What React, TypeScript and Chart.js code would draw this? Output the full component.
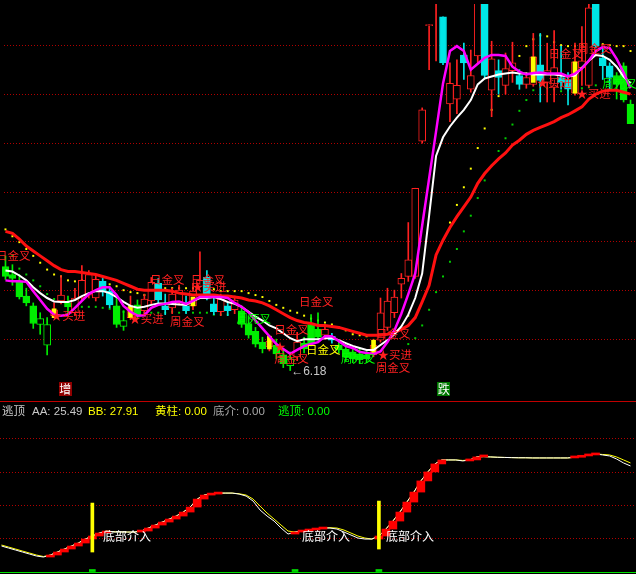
import React, { useEffect, useRef } from 'react';
import { Chart, registerables } from 'chart.js';

Chart.register(...registerables);

// ---------- categories ----------
const days = Array.from({ length: 91 }, (_, i) => `D${i + 1}`);

// ---------- candles (price) ----------
const open = [7.24,7.16,7.09,6.94,6.84,6.65,6.44,6.74,6.89,6.87, 6.77,6.92,6.95,6.92,7.09,6.99,6.84,6.63,6.72,6.85, 6.79,6.89,7.07,6.84,6.82,6.87,6.84,6.84,6.95,7.13, 6.86,6.78,6.84,6.80,6.79,6.66,6.58,6.47,6.42,6.44, 6.34,6.23,6.32,6.46,6.65,6.60,6.54,6.53,6.44,6.40, 6.37,6.35,6.34,6.34,6.49,6.62,6.77,7.06,7.14,7.14, 8.52,9.70,10.00,9.79,8.90,8.95,9.40,9.05,9.39,10.07, 9.04,9.24,9.09,9.24,9.19,9.10,9.10,9.30,9.12,9.07, 9.17,9.15,9.01,9.27,9.09,10.02,9.37,9.29,9.19,9.29, 8.90];
const high = [7.35,7.26,7.16,7.02,6.87,6.77,6.72,6.87,7.15,6.94, 7.02,7.25,7.20,7.15,7.12,7.02,6.92,6.79,6.94,6.90, 6.96,7.13,7.12,6.96,7.02,7.05,6.94,7.07,7.39,7.20, 6.94,6.96,6.88,6.94,6.84,6.74,6.62,6.52,6.54,6.50, 6.40,6.37,6.57,6.52,6.75,6.77,6.65,6.56,6.48,6.45, 6.42,6.40,6.39,6.50,6.92,7.02,7.00,7.17,7.69,8.04, 8.86,9.71,10.27,9.79,9.32,9.35,9.52,9.45,10.17,10.12, 9.54,9.35,9.42,9.53,9.25,9.22,9.62,9.62,9.52,9.65, 9.49,9.22,9.52,9.69,9.92,10.07,9.49,9.32,9.22,9.32, 8.94];
const low = [7.11,7.05,6.91,6.84,6.61,6.55,6.34,6.72,6.86,6.76, 6.74,6.90,6.92,6.89,6.94,6.82,6.62,6.59,6.70,6.72, 6.76,6.86,6.87,6.75,6.76,6.85,6.76,6.80,6.92,6.90, 6.75,6.74,6.74,6.76,6.62,6.51,6.42,6.36,6.38,6.30, 6.21,6.18,6.28,6.36,6.43,6.49,6.50,6.46,6.36,6.28, 6.26,6.25,6.26,6.32,6.47,6.59,6.72,6.92,7.09,7.12, 8.50,9.25,9.34,9.30,8.72,8.80,9.15,9.02,9.32,9.16, 8.77,9.00,9.00,9.12,9.05,9.06,9.08,8.92,8.92,8.92, 9.05,8.89,8.99,9.09,9.07,9.47,9.15,9.05,8.95,8.92, 8.70];
const close = [7.14,7.12,6.93,6.87,6.66,6.71,6.65,6.80,6.95,6.83, 6.92,7.10,7.16,7.11,6.99,6.85,6.65,6.69,6.83,6.75, 6.91,7.08,6.90,6.80,6.96,7.00,6.79,6.99,7.10,6.95, 6.78,6.91,6.79,6.90,6.65,6.54,6.45,6.40,6.48,6.35, 6.25,6.30,6.47,6.40,6.45,6.52,6.60,6.49,6.39,6.32, 6.30,6.29,6.30,6.44,6.77,6.89,6.93,7.12,7.31,8.04, 8.84,9.71,10.22,9.32,9.11,9.09,9.32,9.19,10.12,9.19, 9.36,9.17,9.26,9.32,9.10,9.17,9.38,9.14,9.24,9.27, 9.12,9.05,9.33,9.34,9.88,9.49,9.29,9.17,9.10,8.94, 8.70];
// r = red hollow, c = cyan solid, g = green solid, gh = green hollow
const kind = ['g','g','g','g','g','gh','gh','r','r','g', 'r','r','r','r','c','c','g','gh','r','g', 'r','r','c','c','r','r','c','r','r','c', 'c','r','c','r','g','g','g','g','r','g', 'g','gh','r','g','g','g','r','c','g','g', 'g','g','g','r','r','r','r','r','r','r', 'r','r','r','c','r','r','c','r','r','c', 'r','c','r','r','c','r','r','c','r','r', 'c','c','r','r','r','c','c','c','g','g', 'g'];

// yellow columns (黄柱)
const yellowLo = [null,null,null,null,null,null,null,6.72,null,null, null,null,null,null,null,null,null,null,6.72,null, null,null,null,null,null,null,null,6.84,null,null, null,null,null,null,null,null,null,null,6.40,null, null,null,null,null,null,null,null,null,null,null, null,null,null,6.35,null,null,null,null,null,null, null,null,null,null,null,null,null,null,null,null, null,null,null,null,null,null,9.12,null,null,null, null,null,9.01,null,null,null,null,null,null,null, null];
const yellowHi = [null,null,null,null,null,null,null,6.81,null,null, null,null,null,null,null,null,null,null,6.84,null, null,null,null,null,null,null,null,6.93,null,null, null,null,null,null,null,null,null,null,6.53,null, null,null,null,null,null,null,null,null,null,null, null,null,null,6.49,null,null,null,null,null,null, null,null,null,null,null,null,null,null,null,null, null,null,null,null,null,null,9.38,null,null,null, null,null,9.33,null,null,null,null,null,null,null, null];

// ---------- lines ----------
const redLine = [7.60,7.58,7.52,7.45,7.40,7.35,7.30,7.25,7.21,7.19, 7.19,7.18,7.17,7.16,7.14,7.12,7.10,7.07,7.04,7.01, 7.00,7.00,7.00,7.00,6.99,6.97,6.96,6.95,6.95,6.95, 6.95,6.94,6.94,6.93,6.92,6.90,6.89,6.87,6.84,6.80, 6.76,6.72,6.69,6.67,6.66,6.64,6.64,6.63,6.62,6.60, 6.58,6.56,6.54,6.54,6.54,6.55,6.57,6.60,6.64,6.72, 6.88,7.05,7.36,7.51,7.64,7.75,7.85,7.95,8.09,8.19, 8.27,8.34,8.40,8.48,8.53,8.59,8.63,8.66,8.69,8.72, 8.76,8.79,8.83,8.87,8.95,9.00,9.03,9.04,9.04,9.02, 9.00];
const whiteLine = [7.20,7.19,7.15,7.10,7.03,6.97,6.92,6.885,6.88,6.88, 6.90,6.94,6.97,6.99,6.99,6.97,6.93,6.88,6.84,6.82, 6.83,6.85,6.865,6.865,6.86,6.855,6.85,6.89,6.92,6.92, 6.93,6.91,6.88,6.86,6.83,6.78,6.73,6.69,6.64,6.61, 6.56,6.51,6.48,6.50,6.50,6.50,6.51,6.51,6.49,6.46, 6.43,6.41,6.39,6.39,6.44,6.49,6.55,6.63,6.75,6.92, 7.17,7.76,8.37,8.56,8.67,8.76,8.84,8.94,9.10,9.16, 9.18,9.20,9.21,9.22,9.21,9.21,9.20,9.20,9.20,9.20, 9.19,9.18,9.19,9.27,9.34,9.40,9.39,9.35,9.28,9.18, 9.11];
const pinkLine = [7.10,7.09,7.09,7.085,6.99,6.90,6.81,6.75,6.74,6.75, 6.82,6.89,6.96,7.00,7.03,7.03,6.95,6.84,6.78,6.74, 6.745,6.82,6.85,6.86,6.88,6.885,6.86,6.89,6.93,6.93, 6.93,6.93,6.92,6.87,6.83,6.775,6.69,6.61,6.53,6.45, 6.40,6.35,6.39,6.43,6.45,6.47,6.53,6.53,6.48,6.43, 6.41,6.37,6.36,6.35,6.375,6.47,6.59,6.76,6.96,7.17, 7.66,8.14,8.62,9.11,9.44,9.49,9.44,9.25,9.31,9.37, 9.40,9.40,9.39,9.28,9.23,9.20,9.215,9.22,9.21,9.21, 9.21,9.18,9.21,9.26,9.34,9.44,9.48,9.47,9.36,9.22, 9.06];
const upperDots = [7.62,7.55,7.49,7.42,7.35,7.28,7.21,7.16,7.14,7.10, 7.09,7.10,7.09,7.08,7.07,7.06,7.04,7.00,6.98,6.97, 6.95,7.01,7.02,7.02,7.02,7.02,7.02,7.02,7.02,7.02, 7.01,6.99,6.99,6.99,6.99,6.97,6.95,6.93,6.89,6.85, 6.82,6.79,6.77,6.74,6.71,6.69,6.67,6.65,6.62,6.59, 6.55,6.54,6.53,null,null,null,null,null,6.74,null, null,null,null,null,7.69,7.87,8.05,8.24,8.45,8.65, 8.84,8.98,9.12,9.26,9.39,9.49,9.56,9.60,9.59,9.53, 9.50,9.49,9.49,9.51,9.53,9.53,9.51,9.50,9.49,9.49, 9.44];
const lowerDots = [null,7.35,7.22,7.16,7.10,7.04,6.96,6.91,6.88,6.86, 6.84,6.83,6.83,6.83,6.82,6.81,6.79,6.78,6.77,6.77, 6.77,6.77,6.77,6.77,6.78,6.77,6.78,6.77,6.77,6.77, 6.75,6.75,6.75,null,null,null,null,null,null,null, null,null,null,null,null,null,null,null,null,null, null,null,null,null,null,null,null,null,6.45,6.51, 6.64,6.80,6.98,7.14,7.29,7.42,7.60,7.76,7.94,8.12, 8.27,8.42,8.55,8.69,8.83,8.94,9.04,9.09,9.06,9.05, 9.03,9.04,9.05,9.06,9.07,9.09,null,null,null,null, null];
const priceGrid = [6.5, 7.0, 7.5, 8.0, 8.5, 9.0, 9.5];

// ---------- top annotations ----------
const noteText = ['日金叉','日金叉','日金叉','★买进','★买进','周金叉','★买进','周死叉','日金叉','日金叉','周金叉','★','日金叉','周死叉','★买进','周金叉','日金叉','日金叉','周金叉','★买进','★买进','周死叉','←6.18'];
const noteAt = [-1.36,20.82,26.69,6.51,17.81,23.68,26.84,33.27,42.28,38.70,38.70,38.70,43.28,48.29,53.58,53.30,53.30,78.20,82.34,76.48,82.20,85.92,41.14];
const notePrice = [7.35,7.11,7.11,6.74,6.71,6.68,7.04,6.71,6.88,6.60,6.30,6.42,6.39,6.30,6.34,6.21,6.56,9.41,9.46,9.12,9.01,9.11,6.17];
const noteKind = ['r','r','r','r','r','r','r','g','r','r','r','r','y','g','r','r','r','r','r','r','r','g','w'];
const tagText = ['增', '跌'];
const tagAt = [8.6, 63.1];
const tagPrice = [5.99, 5.99];
const tagKind = ['up', 'down'];

// ---------- bottom indicator ----------
const AA = [15.3,14.1,12.9,11.7,10.5,9.3,8.7,9.9,11.7,13.5, 15.3,17.1,19.5,21.3,23.1,24.3,23.7,23.7,23.7,23.7, 24.3,26.1,27.9,29.7,31.5,33.3,35.7,38.7,43.5,45.9, 46.5,47.1,47.1,47.1,46.5,45.3,42.3,36.9,33.3,30.3, 26.1,22.5,23.7,24.3,24.9,25.5,26.1,26.1,25.5,23.7, 21.9,20.1,19.5,19.5,21.3,25.5,30.3,35.7,41.7,47.7, 54.4,59.8,64.6,67.0,67.0,67.0,66.4,67.0,68.8,69.0, 68.8,68.6,68.5,68.4,68.3,68.3,68.2,68.2,68.2,68.2, 68.2,68.2,68.6,69.4,70.0,70.6,70.0,69.4,67.6,65.2, 63.4];
const BB = [15.9,14.7,13.5,12.3,11.1,9.9,9.0,9.9,11.7,13.5, 15.3,17.1,19.5,21.3,23.1,24.3,23.9,23.8,23.7,23.7, 24.3,26.1,27.9,29.7,31.5,33.3,35.7,38.7,43.5,45.9, 46.5,47.1,47.1,47.1,46.7,45.9,43.5,39.3,35.1,31.5, 27.9,24.3,23.7,24.3,24.9,25.5,26.1,26.3,26.1,24.9, 23.1,21.3,20.1,19.5,21.3,25.5,30.3,35.7,41.7,47.7, 54.4,59.8,64.6,67.0,67.0,67.0,66.7,67.0,68.8,69.0, 68.8,68.6,68.5,68.4,68.3,68.3,68.2,68.2,68.2,68.2, 68.2,68.2,68.6,69.4,70.0,70.6,70.3,70.0,68.8,67.0, 65.2];
const stickDays = [13, 54];
const stickLo = [11.7, 13.5];
const stickHi = [41.1, 42.3];
const bumpDays = [13, 42, 54];
const bottomNoteText = ['底部介入', '底部介入', '底部介入'];
const bottomNoteAt = [14.52, 43.0, 55.0];
const bottomNoteValue = [21.3, 21.3, 21.3];
const indGrid = [20, 40, 60, 80];

// ---------- styles ----------
const RED = '#ff2020';
const CYAN = '#00e6e6';
const GREEN = '#00ee00';
const GRID = '#b00000';
const kindColor: Record<string, string> = { r: RED, c: CYAN, g: GREEN, gh: GREEN };
const noteColor: Record<string, string> = { r: RED, g: '#00ff00', y: '#ffff00', w: '#c8c8c8' };
const CJK = '"Noto Sans CJK SC", "Noto Sans CJK JP", sans-serif';

function gridPlugin(values: number[], zeroLine: boolean) {
  return {
    id: 'dotgrid',
    beforeDatasetsDraw(chart: any) {
      const { ctx, chartArea, scales } = chart;
      ctx.save();
      ctx.lineWidth = 1;
      ctx.strokeStyle = GRID;
      ctx.setLineDash([1, 2]);
      for (const v of values) {
        const y = Math.round(scales.y.getPixelForValue(v)) + 0.5;
        ctx.beginPath();
        ctx.moveTo(chartArea.left + 2, y);
        ctx.lineTo(chart.width, y);
        ctx.stroke();
      }
      if (zeroLine) {
        ctx.setLineDash([]);
        ctx.strokeStyle = '#00e000';
        const y = Math.round(scales.y.getPixelForValue(0)) + 0.5;
        ctx.beginPath();
        ctx.moveTo(0, y);
        ctx.lineTo(chart.width, y);
        ctx.stroke();
      }
      ctx.restore();
    },
  };
}

const topNotesPlugin = {
  id: 'topnotes',
  afterDatasetsDraw(chart: any) {
    const { ctx, scales } = chart;
    ctx.save();
    ctx.textBaseline = 'middle';
    ctx.textAlign = 'left';
    noteText.forEach((t, k) => {
      const x = scales.x.getPixelForValue(noteAt[k]);
      const y = scales.y.getPixelForValue(notePrice[k]);
      ctx.font = noteKind[k] === 'w' ? '12px "Liberation Sans", sans-serif' : `11.5px ${CJK}`;
      ctx.fillStyle = noteColor[noteKind[k]];
      ctx.fillText(t, x, y);
    });
    tagText.forEach((t, k) => {
      const x = scales.x.getPixelForValue(tagAt[k]);
      const y = scales.y.getPixelForValue(tagPrice[k]);
      ctx.fillStyle = tagKind[k] === 'up' ? '#900000' : '#007800';
      ctx.fillRect(Math.round(x - 6.5), Math.round(y - 7), 13, 14);
      ctx.fillStyle = '#ffffff';
      ctx.textAlign = 'center';
      ctx.font = `12px ${CJK}`;
      ctx.fillText(t, x, y + 0.5);
      ctx.textAlign = 'left';
    });
    ctx.restore();
  },
};

const bottomNotesPlugin = {
  id: 'botnotes',
  afterDatasetsDraw(chart: any) {
    const { ctx, scales } = chart;
    ctx.save();
    ctx.textBaseline = 'middle';
    ctx.textAlign = 'left';
    ctx.font = `12px ${CJK}`;
    ctx.fillStyle = '#ffffff';
    bottomNoteText.forEach((t, k) => {
      ctx.fillText(t, scales.x.getPixelForValue(bottomNoteAt[k]), scales.y.getPixelForValue(bottomNoteValue[k]));
    });
    ctx.restore();
  },
};

const baseOptions = (min: number, max: number) => ({
  responsive: false,
  maintainAspectRatio: false,
  animation: false as const,
  devicePixelRatio: 1,
  events: [],
  layout: { padding: { left: 0, top: 0, bottom: 0, right: 4 } },
  plugins: { legend: { display: false }, tooltip: { enabled: false } },
  scales: {
    x: { type: 'category' as const, display: false, offset: true },
    y: { type: 'linear' as const, display: false, min, max },
  },
});

export default function App() {
  const topRef = useRef<HTMLCanvasElement>(null);
  const botRef = useRef<HTMLCanvasElement>(null);

  useEffect(() => {
    document.body.style.margin = '0';
    document.body.style.background = '#000';

    const wicks = days.map((_, i) => [low[i], high[i]]);
    const bodies = days.map((_, i) => [open[i], close[i]]);
    const yellowCols = days.map((_, i) => (yellowLo[i] == null ? null : [yellowLo[i], yellowHi[i]]));
    const colors = kind.map((k) => kindColor[k]);
    const fills = kind.map((k) => (k === 'r' || k === 'gh' ? '#000000' : kindColor[k]));

    const top = new Chart(topRef.current as HTMLCanvasElement, {
      type: 'bar',
      data: {
        labels: days,
        datasets: [
          { type: 'line', data: pinkLine, borderColor: '#ff00ff', borderWidth: 2.5, pointRadius: 0, tension: 0, order: 1 } as any,
          { type: 'line', data: whiteLine, borderColor: '#ffffff', borderWidth: 2, pointRadius: 0, tension: 0, order: 2 } as any,
          { type: 'line', data: redLine, borderColor: '#ff1010', borderWidth: 3, pointRadius: 0, tension: 0, order: 3 } as any,
          { type: 'bar', data: yellowCols, backgroundColor: '#ffff00', barThickness: 4, grouped: false, order: 5 } as any,
          { type: 'bar', data: bodies, backgroundColor: fills, borderColor: colors, borderWidth: 1, borderSkipped: false, barThickness: 7, minBarLength: 1, grouped: false, order: 6 } as any,
          { type: 'bar', data: wicks, backgroundColor: colors, barThickness: 1, grouped: false, order: 7 } as any,
          { type: 'line', data: upperDots, showLine: false, pointStyle: 'rect', pointRadius: 1.4, pointBorderWidth: 0, pointBackgroundColor: '#ffff00', order: 8 } as any,
          { type: 'line', data: lowerDots, showLine: false, pointStyle: 'rect', pointRadius: 1.4, pointBorderWidth: 0, pointBackgroundColor: '#00d000', order: 9 } as any,
        ],
      },
      options: baseOptions(5.91, 9.92) as any,
      plugins: [gridPlugin(priceGrid, false), topNotesPlugin],
    });

    const blocks = days.map((_, i) => (i > 0 && AA[i] > AA[i - 1] ? [AA[i - 1], AA[i]] : null));
    const sticks = days.map((_, i) => {
      const k = stickDays.indexOf(i);
      return k < 0 ? null : [stickLo[k], stickHi[k]];
    });
    const bumps = days.map((_, i) => (bumpDays.includes(i) ? [0, 1.2] : null));

    const bot = new Chart(botRef.current as HTMLCanvasElement, {
      type: 'bar',
      data: {
        labels: days,
        datasets: [
          { type: 'bar', data: sticks, backgroundColor: '#ffff00', barThickness: 3, grouped: false, order: 0 } as any,
          { type: 'bar', data: bumps, backgroundColor: '#00e000', barThickness: 6, grouped: false, order: 0 } as any,
          { type: 'bar', data: blocks, backgroundColor: '#ff0000', barThickness: 8, minBarLength: 2, grouped: false, order: 1 } as any,
          { type: 'line', data: AA, borderColor: '#ffffff', borderWidth: 1, pointRadius: 0, tension: 0, order: 3 } as any,
          { type: 'line', data: BB, borderColor: '#ffff00', borderWidth: 1, pointRadius: 0, tension: 0, order: 4 } as any,
        ],
      },
      options: baseOptions(-1.5, 101.8) as any,
      plugins: [gridPlugin(indGrid, true), bottomNotesPlugin],
    });

    return () => {
      top.destroy();
      bot.destroy();
    };
  }, []);

  const head: React.CSSProperties = {
    position: 'absolute',
    top: 404,
    fontSize: 11.5,
    lineHeight: '14px',
    whiteSpace: 'pre',
    fontFamily: '"Liberation Sans", "Noto Sans CJK SC", sans-serif',
  };

  return (
    <div style={{ position: 'relative', width: 636, height: 574, background: '#000', overflow: 'hidden' }}>
      <style>{'html,body{margin:0;background:#000;}'}</style>
      <canvas ref={topRef} width={640} height={401} style={{ position: 'absolute', left: -2, top: 0, width: 640, height: 401 }} />
      <div style={{ position: 'absolute', left: 0, top: 401, width: 636, height: 1, background: '#c00000' }} />
      <canvas ref={botRef} width={640} height={172} style={{ position: 'absolute', left: -2, top: 402, width: 640, height: 172 }} />
      <span style={{ ...head, left: 2, color: '#c8c8c8' }}>逃顶</span>
      <span style={{ ...head, left: 32, color: '#c8c8c8' }}>AA: 25.49</span>
      <span style={{ ...head, left: 88, color: '#ffff00' }}>BB: 27.91</span>
      <span style={{ ...head, left: 155, color: '#ffff00' }}>黄柱: 0.00</span>
      <span style={{ ...head, left: 213, color: '#a8a8a8' }}>底介: 0.00</span>
      <span style={{ ...head, left: 278, color: '#00ff00' }}>逃顶: 0.00</span>
    </div>
  );
}
